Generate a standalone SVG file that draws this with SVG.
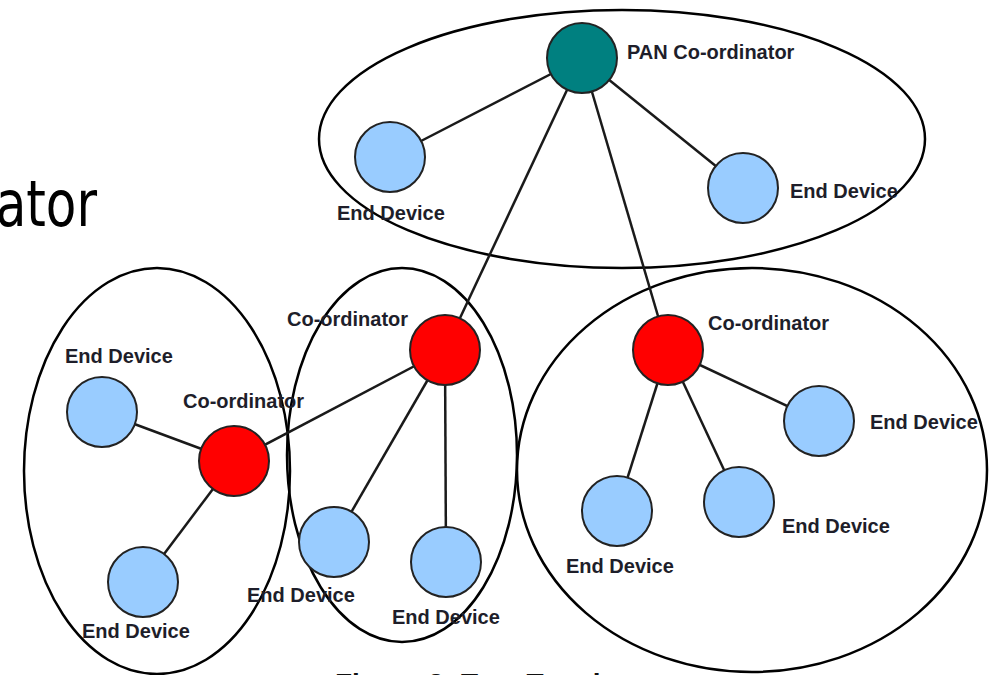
<svg xmlns="http://www.w3.org/2000/svg" width="989" height="675" viewBox="0 0 989 675">
<style>
.ell{fill:none;stroke:#000;stroke-width:2.5}
.ln{stroke:#1a1a1a;stroke-width:2.5}
.ed{fill:#99ccff;stroke:#222;stroke-width:2}
.co{fill:#ff0000;stroke:#222;stroke-width:2}
.pan{fill:#008080;stroke:#222;stroke-width:2}
.lb{font-family:"Liberation Sans",Arial,sans-serif;font-weight:bold;font-size:20px;fill:#1e1e2a}
</style>
<rect width="989" height="675" fill="#fff"/>
<text transform="translate(97,226) scale(1,1.28)" text-anchor="end" font-family="DejaVu Sans, sans-serif" font-size="50" fill="#000">ator</text>
<text x="335" y="693" font-family="Liberation Sans, Arial, sans-serif" font-weight="bold" font-size="28" fill="#111">Figure 3: Tree Topology</text>
<g id="groups">
<ellipse class="ell" cx="622" cy="139" rx="303" ry="129"/>
<ellipse class="ell" cx="157" cy="471" rx="133" ry="203"/>
<ellipse class="ell" cx="402" cy="455" rx="115" ry="187"/>
<ellipse class="ell" cx="752" cy="470" rx="235" ry="202"/>
</g>
<g id="connectors">
<line class="ln" x1="582" y1="58" x2="390" y2="157"/>
<line class="ln" x1="582" y1="58" x2="743" y2="188"/>
<line class="ln" x1="582" y1="58" x2="445" y2="350"/>
<line class="ln" x1="582" y1="58" x2="668" y2="350"/>
<line class="ln" x1="234" y1="461" x2="445" y2="350"/>
<line class="ln" x1="234" y1="461" x2="102" y2="412"/>
<line class="ln" x1="234" y1="461" x2="143" y2="582"/>
<line class="ln" x1="445" y1="350" x2="334" y2="542"/>
<line class="ln" x1="445" y1="350" x2="446" y2="562"/>
<line class="ln" x1="668" y1="350" x2="617" y2="511"/>
<line class="ln" x1="668" y1="350" x2="739" y2="502"/>
<line class="ln" x1="668" y1="350" x2="819" y2="421"/>
</g>
<g id="pan"><circle class="pan" cx="582" cy="58" r="35"/><text class="lb" x="627" y="59">PAN Co-ordinator</text></g>
<g id="ed-top-left"><circle class="ed" cx="390" cy="157" r="35"/><text class="lb" x="337" y="220">End Device</text></g>
<g id="ed-top-right"><circle class="ed" cx="743" cy="188" r="35"/><text class="lb" x="790" y="198">End Device</text></g>
<g id="co-mid"><circle class="co" cx="445" cy="350" r="35"/><text class="lb" x="287" y="326">Co-ordinator</text></g>
<g id="co-right"><circle class="co" cx="668" cy="350" r="35"/><text class="lb" x="708" y="330">Co-ordinator</text></g>
<g id="co-left"><circle class="co" cx="234" cy="461" r="35"/><text class="lb" x="183" y="408">Co-ordinator</text></g>
<g id="ed-left-top"><circle class="ed" cx="102" cy="412" r="35"/><text class="lb" x="65" y="363">End Device</text></g>
<g id="ed-left-bottom"><circle class="ed" cx="143" cy="582" r="35"/><text class="lb" x="82" y="638">End Device</text></g>
<g id="ed-mid-left"><circle class="ed" cx="334" cy="542" r="35"/><text class="lb" x="247" y="602">End Device</text></g>
<g id="ed-mid-right"><circle class="ed" cx="446" cy="562" r="35"/><text class="lb" x="392" y="624">End Device</text></g>
<g id="ed-right-1"><circle class="ed" cx="617" cy="511" r="35"/><text class="lb" x="566" y="573">End Device</text></g>
<g id="ed-right-2"><circle class="ed" cx="739" cy="502" r="35"/><text class="lb" x="782" y="533">End Device</text></g>
<g id="ed-right-3"><circle class="ed" cx="819" cy="421" r="35"/><text class="lb" x="870" y="429">End Device</text></g>
</svg>
